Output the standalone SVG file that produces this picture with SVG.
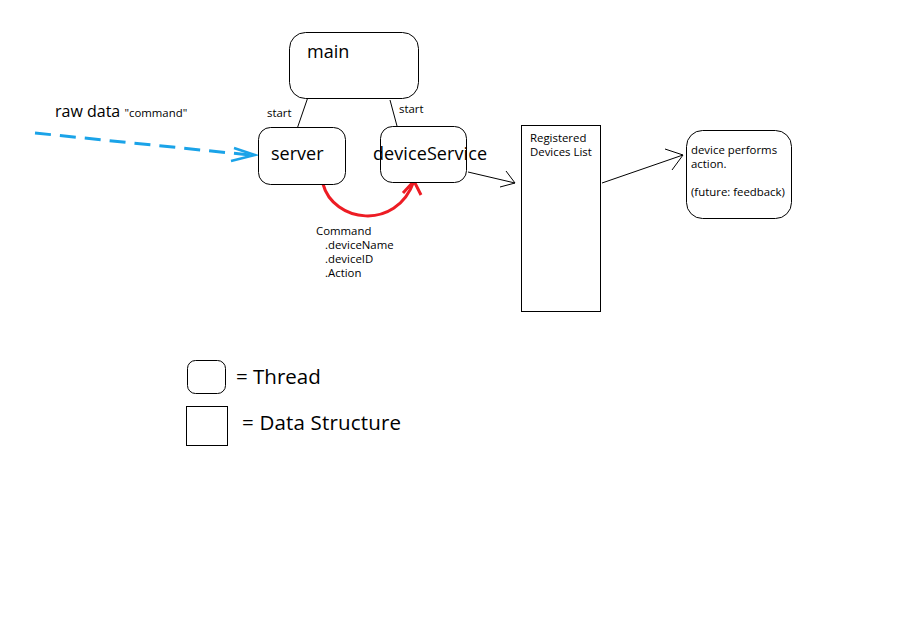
<svg xmlns="http://www.w3.org/2000/svg" width="912" height="617" viewBox="0 0 912 617">
<style>
.box{fill:#fff;stroke:#000;stroke-width:1}
.ln{fill:none;stroke:#000;stroke-width:1}
text{font-family:"Open Sans","Noto Sans",sans-serif;fill:#000}
.big{font-size:18px}
.sm{font-size:11.4px}
.leg{font-size:20.5px}
</style>
<rect width="912" height="617" fill="#fff"/>
<g id="connectors">
<line class="ln" x1="308" y1="97" x2="297" y2="129"/>
<line class="ln" x1="390" y1="100" x2="397" y2="126"/>
<path d="M35,133 L250,155" fill="none" stroke="#1aa3e8" stroke-width="3" stroke-dasharray="16,9"/>
<path d="M234,148 L255,155 L231,161" fill="none" stroke="#1aa3e8" stroke-width="2.5"/>
<path d="M323,184 C333,222 396,232 414,181" fill="none" stroke="#ed1c24" stroke-width="3"/>
<path d="M403,193 L414,181 L421,195" fill="none" stroke="#ed1c24" stroke-width="3"/>
<path class="ln" d="M468,172 L515,183 M506,171 L515,183 L500,187"/>
<path class="ln" d="M602,183 L683,155 M665,149 L683,155 L672,170"/>
</g>
<g id="main"><rect class="box" x="289.5" y="32.5" width="129" height="66" rx="16"/><text class="big" x="307" y="58">main</text></g>
<g id="server"><rect class="box" x="258.5" y="127.5" width="87" height="57" rx="12"/><text class="big" x="271" y="160">server</text></g>
<g id="deviceService"><rect class="box" x="380.5" y="126.5" width="86" height="56" rx="12"/><text class="big" x="373" y="160" textLength="114">deviceService</text></g>
<g id="registered"><rect class="box" x="521.5" y="125.5" width="79" height="186"/><text class="sm" x="530" y="142">Registered</text><text class="sm" x="530" y="156">Devices List</text></g>
<g id="device"><rect class="box" x="686.5" y="130.5" width="105" height="88" rx="16"/><text class="sm" x="691" y="154">device performs</text><text class="sm" x="691" y="168">action.</text><text class="sm" x="691" y="196">(future: feedback)</text></g>
<g id="labels">
<text x="55" y="117" font-size="16">raw data <tspan font-size="11.4">"command"</tspan></text>
<text class="sm" x="267" y="117">start</text>
<text class="sm" x="399" y="113">start</text>
<text class="sm" x="316" y="235">Command</text>
<text class="sm" x="325" y="249">.deviceName</text>
<text class="sm" x="325" y="263">.deviceID</text>
<text class="sm" x="325" y="277">.Action</text>
</g>
<g id="legend">
<rect class="box" x="187.5" y="360.5" width="38" height="33" rx="8"/>
<text class="leg" x="236" y="384">= Thread</text>
<rect class="box" x="186.5" y="406.5" width="41" height="39"/>
<text class="leg" x="242" y="430" textLength="159">= Data Structure</text>
</g>
</svg>
